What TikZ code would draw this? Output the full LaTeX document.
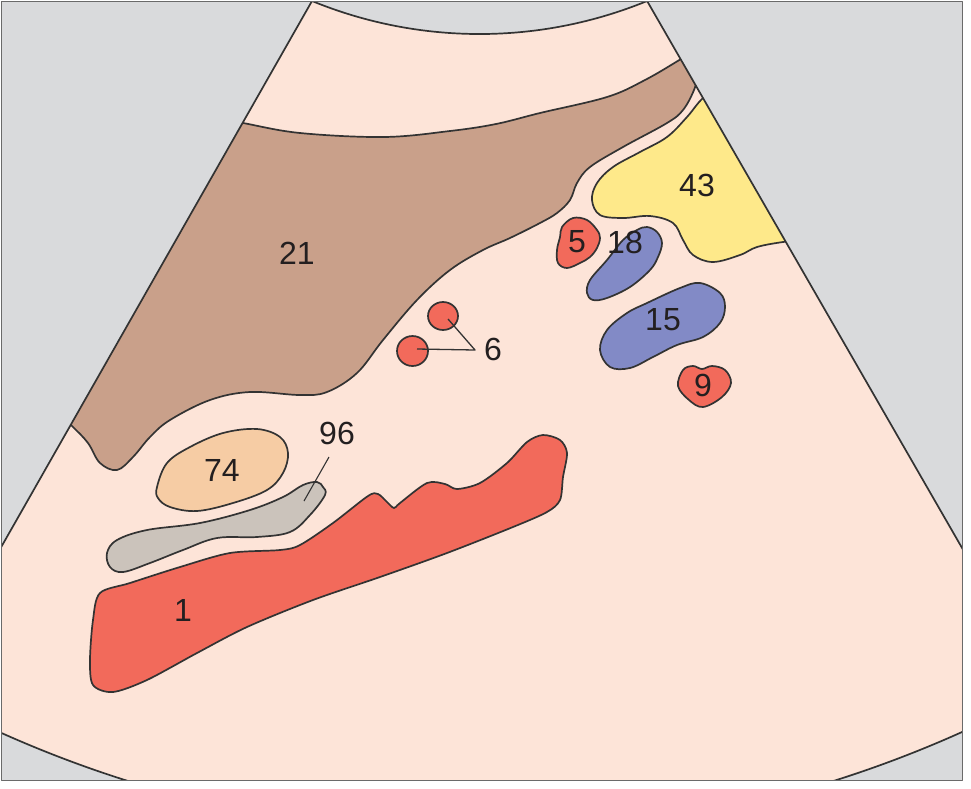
\documentclass[tikz,border=0pt]{standalone}
\usepackage{fontspec}
\setmainfont{Liberation Sans}
\usetikzlibrary{shapes.geometric}
\definecolor{bggray}{HTML}{D9DADC}
\definecolor{peach}{HTML}{FDE4D8}
\definecolor{brownc}{HTML}{C9A08A}
\definecolor{yellowc}{HTML}{FEE98A}
\definecolor{redc}{HTML}{F26A5B}
\definecolor{bluec}{HTML}{828AC6}
\definecolor{orangec}{HTML}{F6CCA4}
\definecolor{grayc}{HTML}{CBC3BB}
\definecolor{lineclr}{HTML}{333333}
\definecolor{txtclr}{HTML}{231F20}
\definecolor{framec}{HTML}{6A6A6A}
\begin{document}
\begin{tikzpicture}[x=1pt,y=-1pt,line join=round,
  outl/.style={draw=lineclr,line width=1.7pt},
  lbl/.style={font=\fontsize{32}{38}\selectfont,text=txtclr,inner sep=0pt},
  leader/.style={draw=lineclr,line width=1.3pt}]
\useasboundingbox (0,0) rectangle (971,788);
\fill[white] (0,0) rectangle (971,788);
\fill[bggray] (1,1) rectangle (962,780);
\begin{scope}
\clip (1,1) rectangle (962,780);
\fill[peach] (312,1) arc[start angle=112.3,end angle=67.7,radius=441.6] -- (1044.4,691) arc[start angle=61.3,end angle=118.6,radius=1174] -- cycle;
\begin{scope}
\clip (312,1) arc[start angle=112.3,end angle=67.7,radius=441.6] -- (1044.4,691) arc[start angle=61.3,end angle=118.6,radius=1174] -- cycle;
% 21 brown
\path[outl,fill=brownc] plot[smooth,tension=0.6] coordinates {(215,118) (243,123) (300,133) (384,137) (450,131) (496,124) (540,113) (607,97) (645,80) (681,59) (705,44)} -- (740,40) -- (740,70) -- plot[smooth,tension=0.6] coordinates {(699,72) (694,90) (683,110) (667,123) (623,147) (590,167) (577,183) (570,200) (557,213) (540,223) (510,238) (483,250) (450,270) (417,300) (383,340) (357,373) (327,392) (300,395) (250,392) (210,400) (170,420) (150,437) (133,457) (117,470) (100,463) (88,443) (73,427) (55,410)} -- (40,400) -- (200,100) -- cycle;
% 43 yellow
\path[outl,fill=yellowc] plot[smooth,tension=0.6] coordinates {(725,82) (703,98) (687,117) (667,137) (640,152) (613,167) (597,183) (592,200) (600,215) (623,218) (650,216) (673,223) (683,240) (693,255) (713,262) (740,255) (757,247) (783,242) (805,240)} -- (820,80) -- cycle;
\end{scope}
% 5 red
\path[outl,fill=redc] plot[smooth cycle,tension=0.6] coordinates {(573,218) (587,220) (597,230) (600,238) (597,248) (590,257) (580,263) (567,268) (558,263) (557,250) (560,237) (562,227)};
% 18 blue
\path[outl,fill=bluec] plot[smooth cycle,tension=0.6] coordinates {(647,227) (657,232) (662,243) (658,257) (650,270) (630,287) (607,298) (593,300) (587,293) (590,280) (607,260) (623,240) (637,230)};
% 15 blue
\path[outl,fill=bluec] plot[smooth cycle,tension=0.6] coordinates {(700,283) (720,293) (725,307) (720,323) (703,337) (677,345) (653,357) (630,368) (610,367) (600,350) (607,330) (627,313) (647,303) (680,288)};
% 9 red
\path[outl,fill=redc] plot[smooth cycle,tension=0.6] coordinates {(683,370) (693,366) (702,369) (712,366) (725,370) (731,383) (722,397) (703,407) (689,400) (678,386)};
% 6 red circles
\node[ellipse,outl,fill=redc,minimum width=30pt,minimum height=28pt,inner sep=0pt] (c6a) at (443,316) {};
\node[ellipse,outl,fill=redc,minimum width=31pt,minimum height=30pt,inner sep=0pt] (c6b) at (412.5,351) {};
% 74 orange
\path[outl,fill=orangec] plot[smooth cycle,tension=0.6] coordinates {(157,487) (167,463) (190,447) (223,433) (257,429) (280,437) (288,453) (283,473) (267,490) (233,503) (197,511) (170,507) (158,498)};
% 96 gray
\path[outl,fill=grayc] plot[smooth cycle,tension=0.6] coordinates {(323,487) (317,482) (303,485) (283,497) (250,510) (200,523) (147,530) (117,540) (107,553) (110,567) (123,572) (150,563) (183,550) (217,538) (257,537) (290,532) (310,515) (325,495)};
% 1 red
\path[outl,fill=redc] plot[smooth cycle,tension=0.5] coordinates {(100,593) (130,583) (180,567) (230,553) (280,550) (300,545) (333,523) (368,496) (378,494) (387,502) (394,508) (400,503) (427,483) (445,484) (457,489) (480,483) (507,463) (527,442) (543,435) (560,440) (567,453) (563,477) (560,500) (547,512) (513,527) (447,553) (380,577) (313,600) (247,627) (197,653) (147,680) (113,692) (93,685) (90,660) (93,620)};
\draw[outl,fill=none] (312,1) arc[start angle=112.3,end angle=67.7,radius=441.6] -- (1044.4,691) arc[start angle=61.3,end angle=118.6,radius=1174] -- cycle;
\end{scope}
\draw[framec,line width=1pt] (1,1) rectangle (962,780);
% leaders
\coordinate (s6a) at (448,319);
\coordinate (s6b) at (417,349);
\coordinate (j6) at (475,350);
\draw[leader] (s6a) -- (j6) -- (s6b);
\coordinate (s96) at (329,457);
\coordinate (e96) at (304,501);
\draw[leader,line width=1.1pt] (s96) -- (e96);
% labels
\node[lbl] (l21) at (297,253) {21};
\node[lbl] (l43) at (697,185) {43};
\node[lbl] (l5) at (577,242) {5};
\node[lbl] (l18) at (625,242) {18};
\node[lbl] (l15) at (663,320) {15};
\node[lbl] (l9) at (703,385) {9};
\node[lbl] (l6) at (493,349) {6};
\node[lbl] (l96) at (337,433) {96};
\node[lbl] (l74) at (222,470) {74};
\node[lbl] (l1) at (183,610) {1};
\end{tikzpicture}
\end{document}
